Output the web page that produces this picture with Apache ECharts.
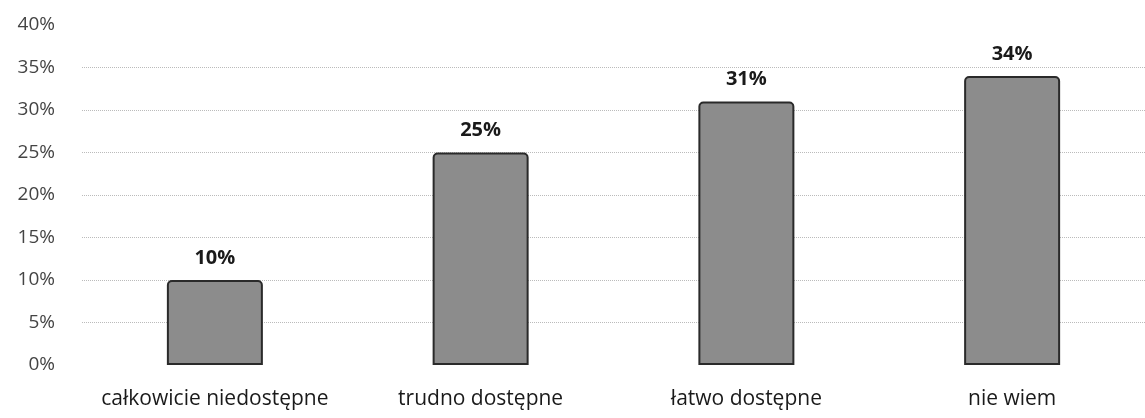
<!DOCTYPE html>
<html>
<head>
<meta charset="utf-8">
<script src="https://cdn.jsdelivr.net/npm/echarts@6/dist/echarts.min.js"></script>
<style>
  html, body { margin: 0; padding: 0; background: #fff; }
  #chart { width: 1145px; height: 418px; }
</style>
</head>
<body>
<div id="chart"></div>
<script>
  var categories = ['całkowicie niedostępne', 'trudno dostępne', 'łatwo dostępne', 'nie wiem'];
  var values = [10, 25, 31, 34];

  var myChart = echarts.init(document.getElementById('chart'));
  var option = {
    animation: false,
    grid: {
      left: 82,
      top: 25,
      bottom: 53,
      width: 1076
    },
    xAxis: {
      type: 'category',
      data: categories,
      axisLine: { show: false },
      axisTick: { show: false },
      axisLabel: {
        interval: 0,
        margin: 24,
        fontFamily: 'Open Sans',
        fontSize: 21,
        color: '#1a1a1a'
      }
    },
    yAxis: {
      type: 'value',
      min: 0,
      max: 40,
      interval: 5,
      axisLine: { show: false },
      axisTick: { show: false },
      axisLabel: {
        margin: 27,
        fontFamily: 'Open Sans',
        fontSize: 19,
        color: '#444'
      , formatter: '{value}%'
      },
      // linie siatki tylko od 5% do 35%
      splitLine: {
        show: true,
        showMinLine: false,
        showMaxLine: false,
        lineStyle: {
          color: '#bbb',
          type: 'dotted',
          width: 1
        }
      }
    },
    series: [{
      type: 'bar',
      data: values,
      barWidth: 96,
      itemStyle: {
        color: '#8c8c8c',
        borderColor: '#2a2a2a',
        borderWidth: 2,
        borderRadius: [4, 4, 0, 0]
      },
      label: {
        show: true,
        position: 'top',
        distance: 12,
        formatter: '{c}%',
        fontFamily: 'Open Sans',
        fontWeight: 'bold',
        fontSize: 20,
        color: '#1a1a1a'
      }
    }]
  };
  myChart.setOption(option, true);
</script>
</body>
</html>
